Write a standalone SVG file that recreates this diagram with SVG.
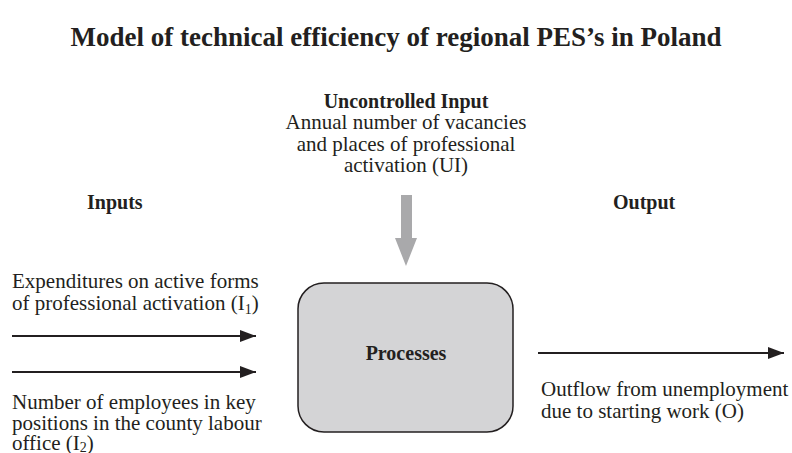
<svg xmlns="http://www.w3.org/2000/svg" width="792" height="453" viewBox="0 0 792 453">
<style>
text{font-family:"Liberation Serif","Times New Roman",serif;fill:#231f20;}
.t{font-size:27px;font-weight:bold;}
.b{font-size:20px;font-weight:bold;}
.r{font-size:21px;}
.c{text-anchor:middle;}
.sub{font-size:14px;}
.conn{stroke:#231f20;stroke-width:2;fill:none;}
</style>
<defs>
<marker id="ah" viewBox="0 0 16 12" refX="16" refY="6" markerWidth="16" markerHeight="12" markerUnits="userSpaceOnUse" orient="auto">
<path d="M0,0 L16,6 L0,12 Z" fill="#231f20"/>
</marker>
</defs>
<rect width="792" height="453" fill="#ffffff"/>
<g id="title"><text class="t c" x="396" y="46">Model of technical efficiency of regional PES’s in Poland</text></g>
<g id="uncontrolled">
<text class="b c" x="406" y="108">Uncontrolled Input</text>
<text class="r c" x="406" y="129">Annual number of vacancies</text>
<text class="r c" x="406" y="151">and places of professional</text>
<text class="r c" x="406" y="172">activation (UI)</text>
</g>
<g id="inputs-label"><text class="b" x="87" y="209">Inputs</text></g>
<g id="output-label"><text class="b" x="613" y="209">Output</text></g>
<g id="input1">
<text class="r" x="12" y="288">Expenditures on active forms</text>
<text class="r" x="12" y="310">of professional activation (I<tspan class="sub" dy="4">1</tspan><tspan dy="-4">)</tspan></text>
</g>
<g id="input2">
<text class="r" x="12" y="409">Number of employees in key</text>
<text class="r" x="12" y="430">positions in the county labour</text>
<text class="r" x="12" y="450">office (I<tspan class="sub" dy="2">2</tspan><tspan dy="-2">)</tspan></text>
</g>
<g id="processes">
<rect x="298" y="283" width="215" height="149" rx="26" ry="26" fill="#d4d4d6" stroke="#231f20" stroke-width="1.5"/>
<text class="b c" x="406" y="360">Processes</text>
</g>
<g id="output">
<text class="r" x="541" y="396">Outflow from unemployment</text>
<text class="r" x="541" y="418">due to starting work (O)</text>
</g>
<g id="connectors">
<path d="M401,195 H412 V238 H417 L406,266 L395,238 H401 Z" fill="#a9a9ab"/>
<line class="conn" x1="12" y1="336" x2="256" y2="336" marker-end="url(#ah)"/>
<line class="conn" x1="12" y1="372" x2="256" y2="372" marker-end="url(#ah)"/>
<line class="conn" x1="538" y1="353" x2="784" y2="353" marker-end="url(#ah)"/>
</g>
</svg>
